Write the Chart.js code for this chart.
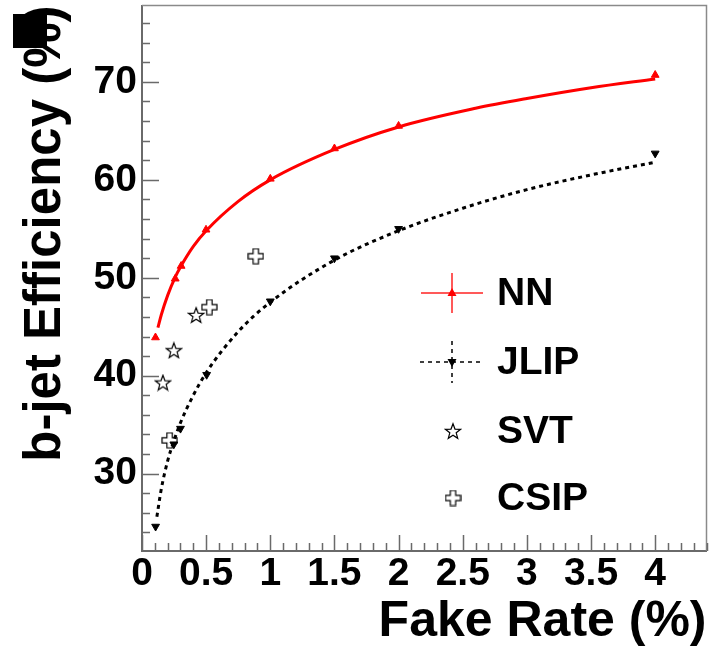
<!DOCTYPE html>
<html>
<head>
<meta charset="utf-8">
<script src="https://cdn.jsdelivr.net/npm/chart.js@4.4.1/dist/chart.umd.min.js"></script>
<style>
  html, body { margin:0; padding:0; background:#fff; }
  #wrap { position:relative; width:712px; height:654px; }
  #mark { position:absolute; left:13px; top:14px; width:34px; height:34px; background:#000; }
</style>
</head>
<body>
<div id="wrap"><canvas id="c" width="712" height="654"></canvas><div id="mark"></div></div>
<script>
// ---- data ----
const xTicks = [0, 0.5, 1, 1.5, 2, 2.5, 3, 3.5, 4];
const yTicks = [30, 40, 50, 60, 70];

const nnX = [0.105, 0.259, 0.305, 0.499, 1.0, 1.5, 2.0, 4.0];
const nnY = [43.9, 49.9, 51.2, 54.9, 60.1, 63.2, 65.5, 70.7];
const nnFitX = [0.124, 0.15, 0.2, 0.26, 0.3, 0.4, 0.5, 0.75, 1.0, 1.5, 2.0, 2.6, 3.0, 3.5, 4.0];
const nnFitY = [44.9, 46.2, 48.2, 50.1, 51.1, 53.2, 54.8, 57.8, 60.0, 63.1, 65.4, 67.3, 68.3, 69.4, 70.3];

const jlipX = [0.106, 0.248, 0.300, 0.504, 1.0, 1.5, 2.0, 4.0];
const jlipY = [24.6, 33.0, 34.6, 40.1, 47.6, 52.0, 55.0, 62.7];
const jlipFitX = [0.116, 0.15, 0.2, 0.25, 0.3, 0.4, 0.5, 0.75, 1.0, 1.5, 2.0, 2.5, 3.0, 3.5, 4.0];
const jlipFitY = [25.6, 28.4, 31.3, 33.4, 35.2, 38.0, 40.3, 44.5, 47.5, 51.8, 54.8, 57.1, 59.0, 60.5, 61.8];

const svtX = [0.163, 0.248, 0.422];
const svtY = [39.3, 42.6, 46.2];

const csipX = [0.215, 0.525, 0.887];
const csipY = [33.4, 47.0, 52.2];

const legendLabels = ["NN", "JLIP", "SVT", "CSIP"];

const pts = (xs, ys) => xs.map((x, i) => ({x: x, y: ys[i]}));

// open marker images (ROOT style star and cross)
function makeStar(size){
  const c = document.createElement("canvas");
  c.width = c.height = size;
  const g = c.getContext("2d");
  const cx = size/2, cy = size/2 + 0.8, R = size/2 - 1, r = R*0.42;
  g.beginPath();
  for (let i=0;i<10;i++){
    const a = -Math.PI/2 + i*Math.PI/5, rr = i%2 ? r : R;
    g.lineTo(cx + rr*Math.cos(a), cy + rr*Math.sin(a));
  }
  g.closePath();
  g.lineWidth = 1.2; g.strokeStyle = "#000"; g.stroke();
  return c;
}
function makeCross(size){
  const c = document.createElement("canvas");
  c.width = c.height = size;
  const g = c.getContext("2d");
  const m = size/2, a = size/2 - 1, w = a*0.36;
  const p = [[-w,-a],[w,-a],[w,-w],[a,-w],[a,w],[w,w],[w,a],[-w,a],[-w,w],[-a,w],[-a,-w],[-w,-w]];
  g.beginPath();
  p.forEach(q => g.lineTo(m+q[0], m+q[1]));
  g.closePath();
  g.lineWidth = 1.2; g.strokeStyle = "#000"; g.stroke();
  return c;
}
const starImg = makeStar(18);
const crossImg = makeCross(17);

const AXIS = "#6a6a6a";

// inward ROOT-style ticks + frame
const frameTicks = {
  id: "frameTicks",
  beforeDatasetsDraw(chart){
    const {ctx, chartArea: a, scales: {x, y}} = chart;
    ctx.save();
    ctx.strokeStyle = "#8a8a8a"; ctx.lineWidth = 1.5;
    ctx.beginPath();
    ctx.moveTo(a.left, a.top); ctx.lineTo(a.right, a.top); ctx.lineTo(a.right, a.bottom);
    ctx.stroke();
    ctx.strokeStyle = AXIS; ctx.lineWidth = 1.5;
    ctx.beginPath();
    for (let i = 0; x.min + i*0.1 <= x.max + 1e-9; i++){
      const v = x.min + i*0.1, px = Math.round(x.getPixelForValue(v)) + 0.5;
      const len = (i % 5 === 0) ? 16 : 8;
      ctx.moveTo(px, a.bottom); ctx.lineTo(px, a.bottom - len);
    }
    for (let v = 24; v <= y.max; v += 2){
      const py = Math.round(y.getPixelForValue(v)) + 0.5;
      const len = (v % 10 === 0) ? 17 : 8;
      ctx.moveTo(a.left, py); ctx.lineTo(a.left + len, py);
    }
    ctx.stroke();
    ctx.restore();
  }
};

// legend drawn like the ROOT TLegend
const rootLegend = {
  id: "rootLegend",
  afterDraw(chart){
    const {ctx} = chart;
    const cx = 452, tx = 497, rows = [293, 362, 431, 498];
    ctx.save();
    // NN
    ctx.strokeStyle = "rgba(255,0,0,0.65)"; ctx.lineWidth = 2;
    ctx.beginPath();
    ctx.moveTo(421, rows[0]); ctx.lineTo(483, rows[0]);
    ctx.moveTo(cx, rows[0]-20); ctx.lineTo(cx, rows[0]+20);
    ctx.stroke();
    ctx.fillStyle = "#ff0000";
    ctx.beginPath(); ctx.moveTo(cx, rows[0]-5); ctx.lineTo(cx+4.5, rows[0]+3); ctx.lineTo(cx-4.5, rows[0]+3); ctx.closePath(); ctx.fill();
    // JLIP
    ctx.strokeStyle = "#000"; ctx.lineWidth = 1.5; ctx.setLineDash([4,4]);
    ctx.beginPath();
    ctx.moveTo(420, rows[1]); ctx.lineTo(482, rows[1]);
    ctx.moveTo(cx, rows[1]-21); ctx.lineTo(cx, rows[1]+21);
    ctx.stroke();
    ctx.setLineDash([]);
    ctx.fillStyle = "#000";
    ctx.beginPath(); ctx.moveTo(cx, rows[1]+5); ctx.lineTo(cx+4.5, rows[1]-3); ctx.lineTo(cx-4.5, rows[1]-3); ctx.closePath(); ctx.fill();
    // SVT, CSIP
    ctx.drawImage(starImg, cx - starImg.width/2 + 1, rows[2] - starImg.height/2);
    ctx.drawImage(crossImg, cx - crossImg.width/2 + 1, rows[3] - crossImg.height/2);
    // labels
    ctx.fillStyle = "#000";
    ctx.font = 'bold 39px "Liberation Sans", Arial, sans-serif';
    ctx.textBaseline = "middle"; ctx.textAlign = "left";
    legendLabels.forEach((t, i) => ctx.fillText(t, tx, rows[i] + 1));
    ctx.restore();
  }
};

Chart.defaults.font.family = '"Liberation Sans", Arial, sans-serif';
Chart.defaults.color = "#000";

new Chart(document.getElementById("c"), {
  type: "scatter",
  data: {
    datasets: [
      { label:"NN", data: pts(nnX, nnY), pointStyle:"triangle", pointRadius:4.5, pointBackgroundColor:"#ff0000", pointBorderColor:"#ff0000", pointBorderWidth:1, showLine:false },
      { label:"JLIP", data: pts(jlipX, jlipY), pointStyle:"triangle", pointRotation:180, pointRadius:4.5, pointBackgroundColor:"#000", pointBorderColor:"#000", pointBorderWidth:1, showLine:false },
      { label:"SVT", data: pts(svtX, svtY), pointStyle: starImg, showLine:false },
      { label:"CSIP", data: pts(csipX, csipY), pointStyle: crossImg, showLine:false },
      { label:"NN fit", data: pts(nnFitX, nnFitY), showLine:true, borderColor:"#ff0000", borderWidth:3, pointRadius:0, cubicInterpolationMode:"monotone" },
      { label:"JLIP fit", data: pts(jlipFitX, jlipFitY), showLine:true, borderColor:"#000", borderWidth:3, borderDash:[4,4], pointRadius:0, cubicInterpolationMode:"monotone" }
    ]
  },
  options: {
    responsive: false,
    animation: false,
    events: [],
    layout: { padding: { top: 3, right: 0, left: 0, bottom: 0 } },
    plugins: { legend: { display:false }, tooltip: { enabled:false } },
    scales: {
      x: {
        type: "linear", min: 0, max: 4.4,
        afterBuildTicks: s => { s.ticks = xTicks.map(v => ({value: v})); },
        afterFit: s => { s.height = 103; s.paddingRight = 0; },
        grid: { display:true, drawOnChartArea:false, drawTicks:false },
        border: { display:true, color: AXIS, width: 2 },
        ticks: { padding: 0, font: { size: 39, weight: "bold", lineHeight: 1.2 }, color:"#000", callback: v => String(v) },
        title: { display:true, text:"Fake Rate (%)", align:"end", padding:{ top:0, bottom:2 }, font:{ size:50, weight:"bold", lineHeight:1.2 }, color:"#000" }
      },
      y: {
        type: "linear", min: 22.1, max: 77.8,
        afterBuildTicks: s => { s.ticks = yTicks.map(v => ({value: v})); },
        afterFit: s => { s.width = 142; s.paddingTop = 0; s.paddingBottom = 0; },
        grid: { display:true, drawOnChartArea:false, drawTicks:false },
        border: { display:true, color: AXIS, width: 2 },
        ticks: { padding: 5, font: { size: 39, weight: "bold" }, color:"#000", callback: v => String(v) },
        title: { display:true, text:"b-jet Efficiency (%)", align:"end", padding:{ top:15, bottom:0 }, font:{ size:51, weight:"bold", lineHeight:1.2 }, color:"#000" }
      }
    }
  },
  plugins: [frameTicks, rootLegend]
});
</script>
</body>
</html>
